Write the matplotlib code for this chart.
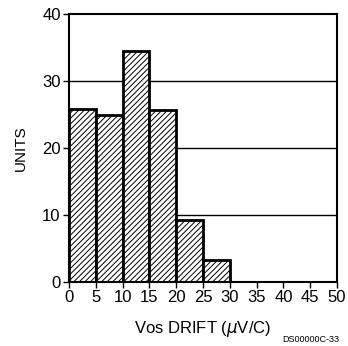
import matplotlib
matplotlib.use("Agg")
import matplotlib.pyplot as plt

plt.rcParams['font.family'] = 'Liberation Sans'
plt.rcParams['hatch.linewidth'] = 0.7

bin_edges = [0, 5, 10, 15, 20, 25]
units = [25.8, 25.0, 34.5, 25.6, 9.2, 3.3]
xticks = [0, 5, 10, 15, 20, 25, 30, 35, 40, 45, 50]
yticks = [0, 10, 20, 30, 40]

fig = plt.figure(figsize=(3.48, 3.46), dpi=100)
ax = fig.add_axes([69/348, 1 - 282/346, 268/348, 268/346])

for y in [10, 20, 30]:
    ax.axhline(y, color='black', lw=1.0, zorder=1)

ax.bar(bin_edges, units, width=5, align='edge', facecolor='white',
       edgecolor='black', hatch='//////', linewidth=2.0, zorder=2)

ax.set_xlim(0, 50)
ax.set_ylim(0, 40)
ax.set_xticks(xticks)
ax.set_yticks(yticks)
ax.tick_params(direction='out', length=4, width=1, labelsize=12, pad=2)
for s in ax.spines.values():
    s.set_linewidth(1.5)

ax.set_ylabel('UNITS', fontsize=11, labelpad=10)
ax.set_xlabel('Vos DRIFT ($\\mu$V/C)', fontsize=12, labelpad=10)
fig.text(282/348, 1 - 344/346, 'DS00000C-33', fontsize=6.5, va='bottom')

fig.savefig('out.png', dpi=100)
